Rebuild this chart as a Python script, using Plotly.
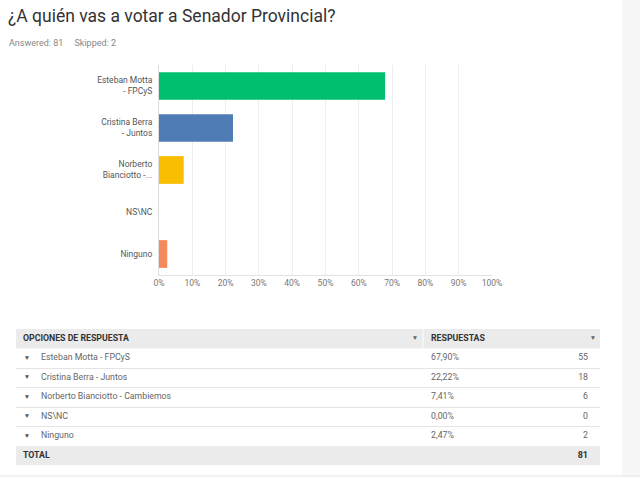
import plotly.graph_objects as go

# ──────────────────────────────────────────────
#  Data
# ──────────────────────────────────────────────
bar_labels = ["Esteban Motta<br>- FPCyS", "Cristina Berra<br>- Juntos",
              "Norberto<br>Bianciotto -...", "NS\\NC", "Ninguno"]
opciones = ["Esteban Motta - FPCyS", "Cristina Berra - Juntos",
            "Norberto Bianciotto - Cambiemos", "NS\\NC", "Ninguno"]
porcentajes = [67.90, 22.22, 7.41, 0.00, 2.47]
respuestas = [55, 18, 6, 0, 2]
total = 81
skipped = 2
bar_colors = ["#00BF6F", "#507CB6", "#F9BE00", "#6BC8CD", "#F4895B"]
x_ticks = list(range(0, 101, 10))
header_labels = ["OPCIONES DE RESPUESTA", "RESPUESTAS"]
total_label = "TOTAL"

W, H = 640, 477
FONT = "Roboto, Open Sans, sans-serif"


def px(x):
    return x / W


def py(y):
    return 1 - y / H


fig = go.Figure()

# ──────────────────────────────────────────────
#  Bar chart
# ──────────────────────────────────────────────
fig.add_trace(go.Bar(
    x=porcentajes, y=bar_labels, orientation="h",
    marker=dict(color=bar_colors, line=dict(width=0)),
    width=0.66, hoverinfo="skip", showlegend=False,
))

fig.update_layout(
    xaxis=dict(
        domain=[px(159), px(492)], range=[0, 100], automargin=False,
        tickvals=x_ticks, ticktext=[f"{t}%" for t in x_ticks],
        showgrid=True, gridcolor="#eeeeee", gridwidth=1,
        showline=True, linecolor="#e2e2e2", zeroline=False,
        ticks="", tickfont=dict(family=FONT, size=8.5, color="#777"),
        fixedrange=True,
    ),
    yaxis=dict(
        domain=[py(275), py(65)], autorange="reversed", automargin=False,
        showline=True, linecolor="#dddddd", showgrid=False,
        ticks="", tickfont=dict(family=FONT, size=8.5, color="#555"),
        ticklabelstandoff=4, fixedrange=True,
    ),
)

# ──────────────────────────────────────────────
#  Response table (drawn on its own pixel-like axes)
#  row 0 = header, rows 1..5 = options, row 6 = total
# ──────────────────────────────────────────────
T_LEFT, T_SPLIT, T_RIGHT = 16, 423, 600
X_TEXT, X_ARROW, X_OPT, X_PCT, X_CNT = 23, 27, 41, 431, 588
n = len(opciones)
rows = list(range(1, n + 1))
total_row = n + 1

pct_text = [f"{p:.2f}%".replace(".", ",") for p in porcentajes]


def text_trace(x, y, text, pos, size=8.75, color="#666"):
    return go.Scatter(
        x=x, y=y, text=text, mode="text", textposition=pos,
        textfont=dict(family=FONT, size=size, color=color),
        xaxis="x2", yaxis="y2", hoverinfo="skip", showlegend=False,
        cliponaxis=False,
    )


fig.add_trace(text_trace([X_ARROW] * n, rows, ["▼"] * n, "middle center", 6.5, "#555"))
fig.add_trace(text_trace([X_OPT] * n, rows, opciones, "middle right"))
fig.add_trace(text_trace([X_PCT] * n, rows, pct_text, "middle right"))
fig.add_trace(text_trace([X_CNT] * n, rows, [str(r) for r in respuestas], "middle left"))
fig.add_trace(text_trace([X_TEXT, X_PCT], [0, 0],
                         [f"<b>{h}</b>" for h in header_labels], "middle right", 8.75, "#333"))
fig.add_trace(text_trace([415, 593], [0, 0], ["▼", "▼"], "middle center", 6.5, "#666"))
fig.add_trace(text_trace([X_TEXT], [total_row], [f"<b>{total_label}</b>"], "middle right", 8.75, "#333"))
fig.add_trace(text_trace([X_CNT], [total_row], [f"<b>{total}</b>"], "middle left", 9, "#333"))

fig.update_layout(
    xaxis2=dict(
        domain=[px(T_LEFT), px(T_RIGHT)], range=[T_LEFT, T_RIGHT], anchor="y2",
        visible=False, fixedrange=True, automargin=False,
    ),
    yaxis2=dict(
        domain=[py(465.5), py(329)], range=[total_row + 0.5, -0.5], anchor="x2",
        tickvals=[r + 0.5 for r in rows[:-1]], showticklabels=False, ticks="",
        showgrid=True, gridcolor="#e4e4e4", gridwidth=1, automargin=False,
        zeroline=False, showline=False, fixedrange=True,
    ),
)

table_bg = [
    dict(x0=T_LEFT, x1=T_SPLIT - 0.5, y0=-0.5, y1=0.5),
    dict(x0=T_SPLIT + 0.5, x1=T_RIGHT, y0=-0.5, y1=0.5),
    dict(x0=T_LEFT, x1=T_RIGHT, y0=total_row - 0.5, y1=total_row + 0.5),
]
shapes = [dict(type="rect", xref="x2", yref="y2", fillcolor="#ebebeb",
               line=dict(width=0), layer="below", **s) for s in table_bg]

# ──────────────────────────────────────────────
#  Layout / text
# ──────────────────────────────────────────────
shapes += [
    dict(type="rect", xref="paper", yref="paper", x0=px(622), x1=1,
         y0=0, y1=1, fillcolor="#f7f7f7", line=dict(width=0), layer="below"),
    dict(type="line", xref="paper", yref="paper", x0=0, x1=1,
         y0=py(476), y1=py(476), line=dict(color="#e6e6e6", width=1)),
]

fig.update_layout(
    width=W, height=H,
    margin=dict(l=0, r=0, t=0, b=0, autoexpand=False),
    paper_bgcolor="white", plot_bgcolor="rgba(0,0,0,0)",
    showlegend=False,
    bargap=0.34,
    shapes=shapes,
    annotations=[
        dict(text="¿A quién vas a votar a Senador Provincial?",
             x=px(6), y=py(16), xref="paper", yref="paper",
             xanchor="left", yanchor="middle", showarrow=False,
             font=dict(family=FONT, size=17.5, color="#333")),
        dict(text=f"Answered: {total}\u00a0\u00a0\u00a0\u00a0\u00a0Skipped: {skipped}",
             x=px(7), y=py(43), xref="paper", yref="paper",
             xanchor="left", yanchor="middle", showarrow=False,
             font=dict(family=FONT, size=9, color="#888")),
    ],
)

fig.write_html("out.html", config={"displayModeBar": False},
               post_script="document.body.style.margin='0';")
